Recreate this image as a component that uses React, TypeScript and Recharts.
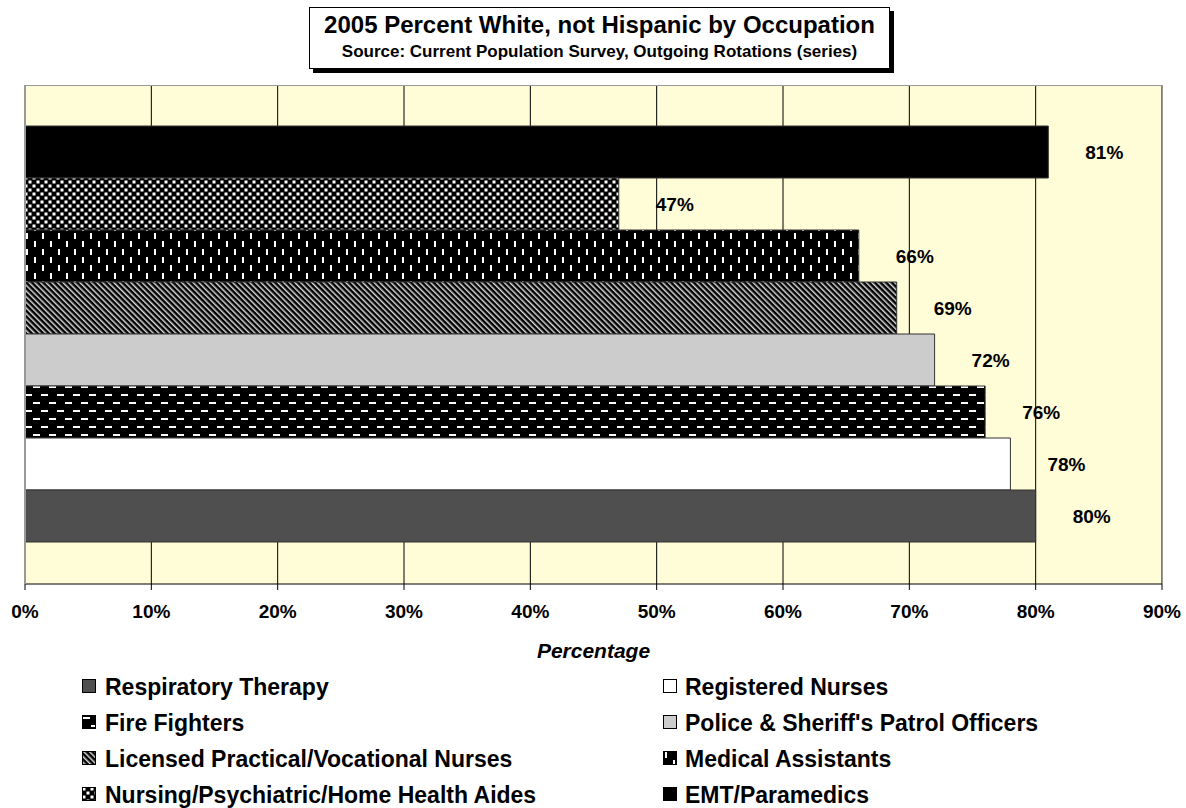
import React from 'react';
import { BarChart, Bar, XAxis, YAxis, CartesianGrid, LabelList } from 'recharts';

const categories = ['2005'];
const seriesNames = [
  'Respiratory Therapy',
  'Registered Nurses',
  'Fire Fighters',
  "Police & Sheriff's Patrol Officers",
  'Licensed Practical/Vocational Nurses',
  'Medical Assistants',
  'Nursing/Psychiatric/Home Health Aides',
  'EMT/Paramedics',
];
const seriesValues = [80, 78, 76, 72, 69, 66, 47, 81];
const xTicks = [0, 10, 20, 30, 40, 50, 60, 70, 80, 90];

const seriesFills = [
  '#4F4F4F',
  '#FFFFFF',
  'url(#pFire)',
  '#CCCCCC',
  'url(#pDiag)',
  'url(#pVert)',
  'url(#pCheck)',
  '#000000',
];

const FONT = '"Liberation Sans", Arial, sans-serif';

const data = categories.map((c) => {
  const row: Record<string, any> = { name: c };
  seriesNames.forEach((_, i) => {
    row['s' + i] = seriesValues[i];
  });
  return row;
});

const Patterns = () => (
  <defs>
    <pattern id="pFire" width="16" height="16" patternUnits="userSpaceOnUse">
      <rect width="16" height="16" fill="#000" />
      <rect x="1" y="2" width="7" height="2" fill="#fff" />
      <rect x="9" y="10" width="7" height="2" fill="#fff" />
    </pattern>
    <pattern id="pVert" width="16" height="16" patternUnits="userSpaceOnUse">
      <rect width="16" height="16" fill="#000" />
      <rect x="2" y="1" width="2" height="6" fill="#fff" />
      <rect x="10" y="9" width="2" height="6" fill="#fff" />
    </pattern>
    <pattern id="pCheck" width="8" height="8" patternUnits="userSpaceOnUse">
      <rect width="8" height="8" fill="#000" />
      <rect x="0.5" y="0.5" width="3" height="3" fill="#fff" />
      <rect x="4.5" y="4.5" width="3" height="3" fill="#fff" />
    </pattern>
    <pattern id="pDiag" width="4" height="4" patternUnits="userSpaceOnUse" patternTransform="rotate(-45)">
      <rect width="4" height="4" fill="#000" />
      <rect x="0" y="0" width="1.5" height="4" fill="#d8d8d8" />
    </pattern>
  </defs>
);

const legendRows = [
  [0, 1],
  [2, 3],
  [4, 5],
  [6, 7],
];

export default function App() {
  return (
    <div style={{ position: 'absolute', left: 0, top: 0, width: 1186, height: 808, background: '#fff', fontFamily: FONT }}>
      <BarChart
        width={1186}
        height={808}
        data={data}
        layout="vertical"
        margin={{ top: 86, right: 24, bottom: 174, left: 25 }}
        barCategoryGap={40}
        barGap={0}
      >
        <Patterns />
        <CartesianGrid horizontal={false} stroke="#000" fill="#FFFCD8" fillOpacity={1} />
        <XAxis
          type="number"
          domain={[0, 90]}
          ticks={xTicks}
          tickFormatter={(v) => `${v}%`}
          height={50}
          tickSize={6}
          tickMargin={15}
          stroke="#000"
          tick={{ fill: '#000', fontSize: 19, fontWeight: 'bold', fontFamily: FONT }}
          interval={0}
        />
        <YAxis type="category" dataKey="name" hide />
        {seriesNames
          .map((n, i) => i)
          .reverse()
          .map((i) => (
            <Bar
              key={i}
              dataKey={'s' + i}
              name={seriesNames[i]}
              fill={seriesFills[i]}
              stroke="#333"
              strokeWidth={1}
              isAnimationActive={false}
            >
              <LabelList
                dataKey={'s' + i}
                position="right"
                offset={37}
                formatter={(v: any) => `${v}%`}
                fill="#000"
                fontSize={19}
                fontWeight="bold"
                fontFamily={FONT}
              />
            </Bar>
          ))}
      </BarChart>

      {/* plot border */}
      <div
        style={{
          position: 'absolute',
          left: 24,
          top: 85,
          width: 1139,
          height: 499,
          boxSizing: 'border-box',
          borderTop: '1px solid #999',
          borderLeft: '2px solid #999',
          borderRight: '1px solid #999',
          pointerEvents: 'none',
        }}
      />

      {/* title box */}
      <div
        style={{
          position: 'absolute',
          left: 309,
          top: 7,
          width: 581,
          height: 62,
          boxSizing: 'border-box',
          border: '1px solid #000',
          background: '#fff',
          boxShadow: '4px 4px 0 #000',
        }}
      />
      <div
        style={{
          position: 'absolute',
          left: 309,
          width: 581,
          top: 13,
          textAlign: 'center',
          fontSize: 24,
          lineHeight: '24px',
          fontWeight: 'bold',
          whiteSpace: 'nowrap',
          color: '#000',
        }}
      >
        2005 Percent White, not Hispanic by Occupation
      </div>
      <div
        style={{
          position: 'absolute',
          left: 309,
          width: 581,
          top: 43,
          textAlign: 'center',
          fontSize: 17,
          lineHeight: '17px',
          fontWeight: 'bold',
          whiteSpace: 'nowrap',
          color: '#000',
        }}
      >
        Source: Current Population Survey, Outgoing Rotations (series)
      </div>

      {/* axis title */}
      <div
        style={{
          position: 'absolute',
          left: 25,
          width: 1137,
          top: 640,
          textAlign: 'center',
          fontSize: 21,
          lineHeight: '21px',
          fontWeight: 'bold',
          fontStyle: 'italic',
          color: '#000',
        }}
      >
        Percentage
      </div>

      {/* legend */}
      {legendRows.map((pair, r) =>
        pair.map((idx, c) => {
          const left = c === 0 ? 82 : 663;
          const top = 676 + r * 36;
          return (
            <div key={idx} style={{ position: 'absolute', left, top, height: 23, whiteSpace: 'nowrap' }}>
              <svg width={14} height={14} style={{ position: 'absolute', left: 0, top: 3 }}>
                <rect x={0.5} y={0.5} width={13} height={13} fill={seriesFills[idx]} stroke="#000" strokeWidth={1} />
              </svg>
              <span
                style={{
                  position: 'absolute',
                  left: c === 0 ? 23 : 22,
                  top: 0,
                  fontSize: 23,
                  lineHeight: '23px',
                  fontWeight: 'bold',
                  color: '#000',
                }}
              >
                {seriesNames[idx]}
              </span>
            </div>
          );
        })
      )}
    </div>
  );
}
